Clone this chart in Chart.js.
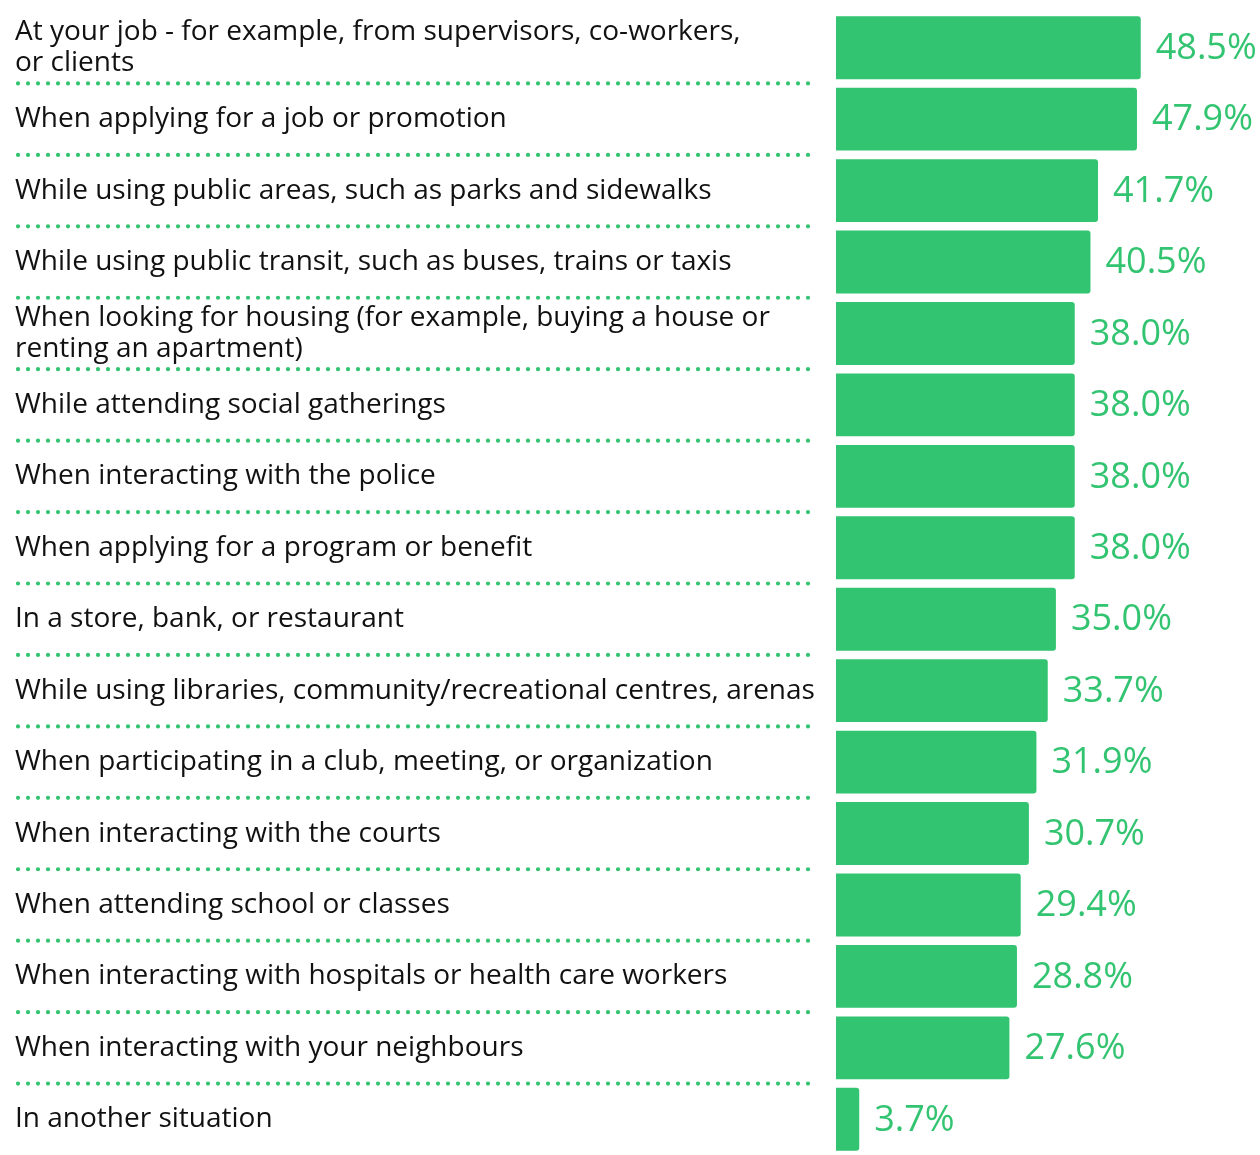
<!DOCTYPE html>
<html>
<head>
<meta charset="utf-8">
<script src="https://cdn.jsdelivr.net/npm/chart.js@4.4.0/dist/chart.umd.min.js"></script>
<style>
  html, body { margin: 0; padding: 0; background: #fff; }
  #wrap { width: 1260px; height: 1155px; position: relative; }
</style>
</head>
<body>
<div id="wrap"><canvas id="situations-chart"></canvas></div>
<script>
const situations = [
  ["At your job - for example, from supervisors, co-workers,", "or clients"],
  "When applying for a job or promotion",
  "While using public areas, such as parks and sidewalks",
  "While using public transit, such as buses, trains or taxis",
  ["When looking for housing (for example, buying a house or", "renting an apartment)"],
  "While attending social gatherings",
  "When interacting with the police",
  "When applying for a program or benefit",
  "In a store, bank, or restaurant",
  "While using libraries, community/recreational centres, arenas",
  "When participating in a club, meeting, or organization",
  "When interacting with the courts",
  "When attending school or classes",
  "When interacting with hospitals or health care workers",
  "When interacting with your neighbours",
  "In another situation",
];
const percentages = [48.5, 47.9, 41.7, 40.5, 38.0, 38.0, 38.0, 38.0, 35.0, 33.7, 31.9, 30.7, 29.4, 28.8, 27.6, 3.7];

const green = "#33c471";
const labelFont = "Open Sans";

// dotted separators between the rows, in the label column
const rowSeparators = {
  id: "rowSeparators",
  afterDraw(chart) {
    const { ctx } = chart;
    const yScale = chart.scales.y;
    ctx.save();
    ctx.strokeStyle = green;
    ctx.lineWidth = 4.2;
    ctx.lineCap = "round";
    ctx.setLineDash([0, 10]);
    for (let i = 0; i < situations.length - 1; i++) {
      const y = (yScale.getPixelForValue(i) + yScale.getPixelForValue(i + 1)) / 2;
      ctx.beginPath();
      ctx.moveTo(18, y);
      ctx.lineTo(818, y);
      ctx.stroke();
    }
    ctx.restore();
  },
};

// percentage text next to each bar
const valueLabels = {
  id: "valueLabels",
  afterDatasetsDraw(chart) {
    const { ctx } = chart;
    const meta = chart.getDatasetMeta(0);
    ctx.save();
    ctx.fillStyle = green;
    ctx.font = `36px "${labelFont}"`;
    ctx.textAlign = "left";
    ctx.textBaseline = "middle";
    meta.data.forEach((bar, i) => {
      ctx.fillText(percentages[i].toFixed(1) + "%", bar.x + 15, bar.y + 1);
    });
    ctx.restore();
  },
};

new Chart(document.getElementById("situations-chart"), {
  type: "bar",
  data: {
    labels: situations,
    datasets: [
      {
        data: percentages,
        backgroundColor: green,
        borderRadius: 3,
        borderSkipped: "start",
        categoryPercentage: 1,
        barPercentage: 0.88,
      },
    ],
  },
  options: {
    indexAxis: "y",
    responsive: true,
    maintainAspectRatio: false,
    animation: false,
    layout: {
      padding: { left: 15, right: 47, top: 12, bottom: 0 },
    },
    plugins: {
      legend: { display: false },
      tooltip: { enabled: false },
    },
    scales: {
      x: {
        display: false,
        min: 0,
        max: 60,
      },
      y: {
        grid: { display: false, drawTicks: false },
        border: { display: false },
        afterFit(scale) {
          // fixed label column; the two-line labels must not shrink the plot
          scale.width = 821;
          scale.paddingTop = 0;
          scale.paddingBottom = 0;
        },
        ticks: {
          crossAlign: "far",
          padding: 0,
          color: "#111",
          font: { family: labelFont, size: 28, lineHeight: 1.1 },
          autoSkip: false,
        },
      },
    },
  },
  plugins: [rowSeparators, valueLabels],
});
</script>
</body>
</html>
